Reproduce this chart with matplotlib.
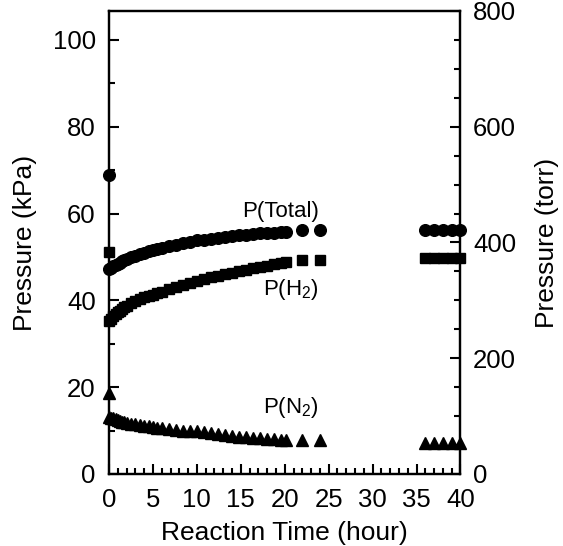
#!/usr/bin/env python3
"""Partial pressures vs reaction time (kPa left, torr right)."""

import matplotlib
matplotlib.use("Agg")
import matplotlib.pyplot as plt
from matplotlib.ticker import MultipleLocator

plt.rcParams["font.family"] = ["Liberation Sans", "DejaVu Sans"]
plt.rcParams["mathtext.fontset"] = "custom"
plt.rcParams["mathtext.rm"] = "Liberation Sans"

# reaction time (hour); first entry is the initial charge before reaction
TIME = [0.0, 0.0, 0.25, 0.5, 0.75, 1.0, 1.25, 1.5, 1.75, 2.0, 2.5, 3.0, 3.5,
        4.0, 4.5, 5.0, 5.5, 6.0, 6.8, 7.6, 8.4, 9.2, 10.0, 10.8, 11.6, 12.4,
        13.2, 14.0, 14.8, 15.6, 16.4, 17.2, 18.0, 18.8, 19.6, 20.2,
        22.0, 24.0, 36.0, 37.0, 38.0, 39.0, 40.0]

P_TOTAL = [68.9, 47.2, 47.5, 47.8, 48.1, 48.4, 48.7, 49.0, 49.3, 49.5, 49.9,
           50.3, 50.7, 51.0, 51.3, 51.6, 51.9, 52.1, 52.5, 52.8, 53.1, 53.4,
           53.8, 54.0, 54.2, 54.4, 54.6, 54.8, 55.0, 55.1, 55.3, 55.4, 55.5,
           55.6, 55.7, 55.8, 56.2, 56.2, 56.2, 56.2, 56.2, 56.2, 56.2]

P_H2 = [51.2, 35.3, 35.8, 36.3, 36.8, 37.2, 37.6, 38.0, 38.4, 38.7, 39.3,
        39.8, 40.3, 40.7, 41.0, 41.3, 41.7, 42.0, 42.5, 43.0, 43.5, 44.0,
        44.5, 44.9, 45.3, 45.7, 46.0, 46.4, 46.8, 47.1, 47.4, 47.7, 48.0,
        48.3, 48.6, 48.9, 49.3, 49.3, 49.7, 49.7, 49.7, 49.7, 49.7]

P_N2 = [18.6, 13.2, 13.0, 12.8, 12.6, 12.4, 12.2, 12.0, 11.9, 11.8, 11.6,
        11.4, 11.2, 11.1, 11.0, 10.9, 10.7, 10.6, 10.4, 10.2, 10.0, 9.9,
        9.8, 9.6, 9.4, 9.2, 9.0, 8.8, 8.6, 8.5, 8.4, 8.2, 8.1, 8.0, 7.9,
        7.8, 7.8, 7.8, 7.1, 7.1, 7.1, 7.1, 7.1]

KPA_MAX = 800 / 7.50062  # left axis top matches 800 torr on the right


def style_axis(a):
    a.tick_params(which="both", direction="in", width=1.5, labelsize=18.5)
    a.tick_params(which="major", length=7)
    a.tick_params(which="minor", length=4)
    for sp in a.spines.values():
        sp.set_linewidth(1.6)


def main() -> None:
    fig = plt.figure(figsize=(5.63, 5.46), dpi=100)
    ax = fig.add_axes([0.1936, 0.1319, 0.6243, 0.848])

    kw = dict(linestyle="none", color="black", mec="black", clip_on=False, zorder=3)
    ax.plot(TIME, P_TOTAL, marker="o", ms=8.4, **kw)
    ax.plot(TIME, P_H2, marker="s", ms=7.6, **kw)
    ax.plot(TIME, P_N2, marker="^", ms=8.8, **kw)

    ax.set_xlim(0, 40)
    ax.set_ylim(0, KPA_MAX)
    ax.xaxis.set_major_locator(MultipleLocator(5))
    ax.xaxis.set_minor_locator(MultipleLocator(1))
    ax.yaxis.set_major_locator(MultipleLocator(20))
    ax.yaxis.set_minor_locator(MultipleLocator(10))
    style_axis(ax)
    ax.tick_params(which="both", top=False, right=False)
    ax.tick_params(axis="x", pad=10)
    ax.tick_params(axis="y", pad=9.5)

    ax.set_xlabel("Reaction Time (hour)", fontsize=19)
    ax.xaxis.label.set_va("center")
    ax.xaxis.set_label_coords(0.5, -0.127)
    ax.set_ylabel("Pressure (kPa)", fontsize=19)
    ax.yaxis.label.set_va("center")
    ax.yaxis.set_label_coords(-0.239, 0.5)

    ax2 = ax.twinx()
    ax2.set_ylim(0, 800)
    ax2.yaxis.set_major_locator(MultipleLocator(200))
    ax2.yaxis.set_minor_locator(MultipleLocator(50))
    style_axis(ax2)
    ax2.tick_params(axis="y", pad=9)
    ax2.set_ylabel("Pressure (torr)", fontsize=19)
    ax2.yaxis.label.set_va("center")
    ax2.yaxis.set_label_coords(1.246, 0.5)

    ax.text(23.9, 60.4, "P(Total)", fontsize=16, ha="right", va="center")
    ax.text(23.9, 42.6, "P(H$_2$)", fontsize=16, ha="right", va="center")
    ax.text(23.9, 15.3, "P(N$_2$)", fontsize=16, ha="right", va="center")

    fig.savefig("out.png", dpi=100)


if __name__ == "__main__":
    main()
